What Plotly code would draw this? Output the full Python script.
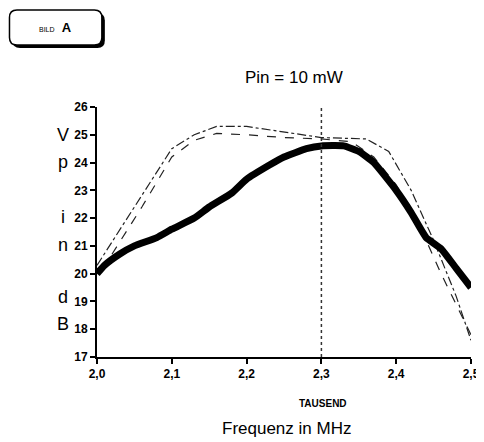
import plotly.graph_objects as go

# Frequenz in GHz-Achse (angeschrieben als MHz, "TAUSEND")
freq_thick = [2.0, 2.01, 2.03, 2.05, 2.08, 2.1, 2.13, 2.15, 2.18, 2.2, 2.23, 2.25, 2.28, 2.3, 2.33, 2.35, 2.37, 2.4, 2.42, 2.44, 2.46, 2.48, 2.5]
vp_thick   = [20.0, 20.3, 20.7, 21.0, 21.3, 21.6, 22.0, 22.4, 22.9, 23.4, 23.9, 24.2, 24.5, 24.6, 24.6, 24.4, 24.0, 23.0, 22.2, 21.3, 20.9, 20.2, 19.5]

freq_dashdot = [2.0, 2.05, 2.1, 2.13, 2.16, 2.2, 2.25, 2.3, 2.36, 2.39, 2.42, 2.45, 2.48, 2.5]
vp_dashdot   = [20.3, 22.4, 24.5, 25.0, 25.3, 25.3, 25.1, 24.9, 24.85, 24.4, 23.0, 21.2, 19.2, 17.6]

freq_dash = [2.02, 2.06, 2.1, 2.13, 2.16, 2.2, 2.25, 2.3, 2.34, 2.37, 2.4, 2.43, 2.46, 2.5]
vp_dash   = [20.7, 22.4, 24.2, 24.8, 25.05, 25.0, 24.9, 24.85, 24.75, 24.2, 23.2, 21.8, 20.0, 17.8]

marker_freq = 2.3

x_ticks = [2.0, 2.1, 2.2, 2.3, 2.4, 2.5]
y_ticks = [17, 18, 19, 20, 21, 22, 23, 24, 25, 26]

ylabel_letters = ["V", "p", "i", "n", "d", "B"]
ylabel_pos     = [0.888, 0.78, 0.56, 0.448, 0.24, 0.132]

_FONT = "Liberation Sans, Arial, sans-serif"

fig = go.Figure()

fig.add_trace(go.Scatter(
    x=freq_dashdot, y=vp_dashdot, mode="lines",
    line={"color": "#222", "width": 1.2, "dash": "dashdot"},
    hoverinfo="skip",
))
fig.add_trace(go.Scatter(
    x=freq_dash, y=vp_dash, mode="lines",
    line={"color": "#222", "width": 1.2, "dash": "dash"},
    hoverinfo="skip",
))
fig.add_trace(go.Scatter(
    x=freq_thick, y=vp_thick, mode="lines",
    line={"color": "#000", "width": 7, "shape": "spline", "smoothing": 0.4},
    hoverinfo="skip",
))

# dotted marker line at 2,3
fig.add_shape(type="line", x0=marker_freq, x1=marker_freq, y0=17, y1=26,
              xref="x", yref="y", line={"color": "#333", "width": 1.5, "dash": "dot"})


def _rounded_rect(x0, y0, x1, y1, rx, ry):
    return (f"M {x0+rx},{y0} L {x1-rx},{y0} Q {x1},{y0} {x1},{y0+ry} "
            f"L {x1},{y1-ry} Q {x1},{y1} {x1-rx},{y1} L {x0+rx},{y1} "
            f"Q {x0},{y1} {x0},{y1-ry} L {x0},{y0+ry} Q {x0},{y0} {x0+rx},{y0} Z")


# label box top-left, with a drop shadow
fig.add_shape(type="path", xref="paper", yref="paper",
              path=_rounded_rect(-0.226, 1.236, 0.021, 1.376, 0.02, 0.03),
              fillcolor="#000", line={"width": 0}, layer="above")
fig.add_shape(type="path", xref="paper", yref="paper",
              path=_rounded_rect(-0.234, 1.248, 0.013, 1.388, 0.02, 0.03),
              fillcolor="#fff", line={"color": "#000", "width": 1.5}, layer="above")

annotations = [
    dict(text="<span style='font-size:7px'>BILD</span>  <b>A</b>", x=-0.11, y=1.318,
         font={"size": 13, "color": "#000"}),
    dict(text="Pin = 10 mW", x=0.526, y=1.116, font={"size": 17, "color": "#000"}),
    dict(text="<b>TAUSEND</b>", x=0.605, y=-0.184, font={"size": 10, "color": "#000"}),
    dict(text="Frequenz in MHz", x=0.508, y=-0.284, font={"size": 17, "color": "#000"}),
]
for letter, yp in zip(ylabel_letters, ylabel_pos):
    annotations.append(dict(text=letter, x=-0.092, y=yp, font={"size": 18, "color": "#000"}))

for a in annotations:
    a.update(xref="paper", yref="paper", showarrow=False, xanchor="center", yanchor="middle")

# the page body adds an 8px margin, so the margins are shifted by 8px
fig.update_layout(
    width=484,
    height=442,
    margin={"l": 89, "r": 15, "t": 99, "b": 93},
    paper_bgcolor="#fff",
    plot_bgcolor="#fff",
    showlegend=False,
    separators=",.",
    font={"family": _FONT, "color": "#000"},
    annotations=annotations,
    xaxis={
        "range": [2.0, 2.5],
        "tickvals": x_ticks,
        "tickformat": ".1f",
        "showgrid": False,
        "zeroline": False,
        "showline": True,
        "linecolor": "#000",
        "linewidth": 2,
        "ticks": "outside",
        "ticklen": 5,
        "tickwidth": 2,
        "tickcolor": "#000",
        "tickfont": {"size": 12, "weight": "bold", "family": _FONT},
    },
    yaxis={
        "range": [17, 26],
        "tickvals": y_ticks,
        "showgrid": False,
        "zeroline": False,
        "showline": True,
        "linecolor": "#000",
        "linewidth": 2,
        "ticks": "outside",
        "ticklen": 5,
        "tickwidth": 2,
        "tickcolor": "#000",
        "tickfont": {"size": 12, "weight": "bold", "family": _FONT},
    },
)

fig.write_html("out.html")
